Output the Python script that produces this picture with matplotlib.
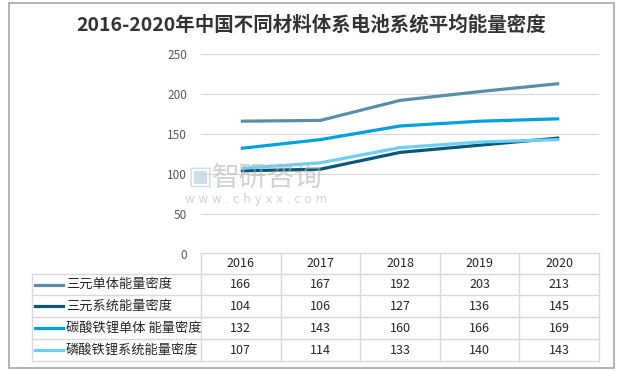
import matplotlib
matplotlib.use("Agg")
import matplotlib.pyplot as plt
from matplotlib.patches import Rectangle
from matplotlib.lines import Line2D

plt.rcParams['font.family'] = ['Noto Sans CJK SC', 'DejaVu Sans']

years = ["2016", "2017", "2018", "2019", "2020"]
series_names = ["三元单体能量密度", "三元系统能量密度", "碳酸铁锂单体 能量密度", "磷酸铁锂系统能量密度"]
ternary_cell = [166, 167, 192, 203, 213]
ternary_system = [104, 106, 127, 136, 145]
lfp_cell = [132, 143, 160, 166, 169]
lfp_system = [107, 114, 133, 140, 143]
series_values = [ternary_cell, ternary_system, lfp_cell, lfp_system]
colors = ["#5B8EA6", "#0B5779", "#00A1DA", "#6DCFF6"]
yticks = [0, 50, 100, 150, 200, 250]
title = "2016-2020年中国不同材料体系电池系统平均能量密度"

W, H = 619, 371
fig = plt.figure(figsize=(W / 100, H / 100), dpi=100)

def fx(px):
    return px / W

def fy(py):
    return 1 - py / H

# outer frame
fig.patches.append(Rectangle((fx(9), fy(368)), fx(614) - fx(9), fy(3) - fy(368),
                             transform=fig.transFigure, fill=False,
                             edgecolor="#A6A6A6", lw=1.2))

fig.text(fx(311), fy(25), title, ha="center", va="center", fontsize=14,
         fontweight="bold", color="#333333")

# watermark (behind chart)
fig.text(fx(188), fy(177), "▣", fontsize=19, color="#9DBFDA", alpha=0.5,
         ha="left", va="center", family=["DejaVu Sans"], zorder=0)
fig.text(fx(212), fy(178), "智研咨询", fontsize=20, color="#B5B5B5", alpha=0.6,
         ha="left", va="center", zorder=0)
fig.text(fx(185), fy(200), "w w w . c h y x x . c o m", fontsize=8.6, color="#B5B5B5",
         alpha=0.6, ha="left", va="center", family=["DejaVu Sans"], zorder=0)

# main chart
x0, x1 = 201, 599
yb, yt = 254, 54
ax = fig.add_axes([fx(x0), fy(yb), fx(x1) - fx(x0), fy(yt) - fy(yb)])
ax.set_xlim(-0.5, len(years) - 0.5)
ax.set_ylim(0, 250)
ax.set_yticks(yticks)
ax.set_yticklabels([str(v) for v in yticks])
ax.tick_params(axis="y", length=0, labelsize=8.5, labelcolor="#595959", pad=10)
ax.set_xticks([])
for s in ax.spines.values():
    s.set_visible(False)
ax.grid(axis="y", color="#D9D9D9", lw=0.8)
ax.set_axisbelow(True)
ax.patch.set_alpha(0)

xs = list(range(len(years)))
for name, vals, c in zip(series_names, series_values, colors):
    ax.plot(xs, vals, color=c, lw=2.3, solid_capstyle="butt", zorder=3)

# table
tl, tlab, tr = 32, 201, 599
row_edges = [253, 274, 295, 317, 339, 361]
gc = "#D9D9D9"
colw = (tr - tlab) / len(years)

def hline(xa, xb, y):
    fig.add_artist(Line2D([fx(xa), fx(xb)], [fy(y), fy(y)], transform=fig.transFigure,
                          color=gc, lw=1))

def vline(x, ya, yb_):
    fig.add_artist(Line2D([fx(x), fx(x)], [fy(ya), fy(yb_)], transform=fig.transFigure,
                          color=gc, lw=1))

hline(tlab, tr, row_edges[0])
for y in row_edges[1:]:
    hline(tl, tr, y)
vline(tl, row_edges[1], row_edges[-1])
for i in range(len(years) + 1):
    vline(tlab + i * colw, row_edges[0], row_edges[-1])

for i, yr in enumerate(years):
    cx = tlab + (i + 0.5) * colw
    fig.text(fx(cx), fy((row_edges[0] + row_edges[1]) / 2), yr, ha="center", va="center",
             fontsize=9, color="#262626")
for r, (name, vals, c) in enumerate(zip(series_names, series_values, colors)):
    cy = (row_edges[r + 1] + row_edges[r + 2]) / 2
    fig.add_artist(Line2D([fx(35), fx(63)], [fy(cy), fy(cy)], transform=fig.transFigure,
                          color=c, lw=2.3))
    fig.text(fx(66), fy(cy), name, ha="left", va="center", fontsize=9.5, color="#262626")
    for i, v in enumerate(vals):
        cx = tlab + (i + 0.5) * colw
        fig.text(fx(cx), fy(cy), str(v), ha="center", va="center", fontsize=9,
                 color="#262626")

fig.savefig("out.png", dpi=100)
